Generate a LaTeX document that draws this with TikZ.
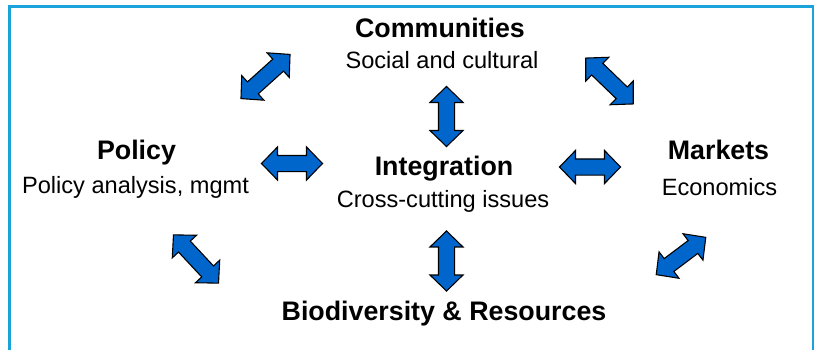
\documentclass[tikz,border=0pt]{standalone}
\usepackage{fontspec}
\setmainfont{Liberation Sans}
\usetikzlibrary{shapes.arrows}
\definecolor{framecol}{RGB}{26,163,218}
\definecolor{arrowblue}{RGB}{0,102,204}
\tikzset{
  title/.style={anchor=base, inner sep=0pt, font=\fontsize{26.8}{31}\selectfont\bfseries},
  sub/.style={anchor=base, inner sep=0pt, font=\fontsize{23.6}{28}\selectfont},
  dblarrow/.style={double arrow, draw=black, line width=1.1pt, fill=arrowblue,
    inner xsep=0pt, inner ysep=7.5pt, minimum height=#1,
    double arrow head extend=8.5pt, double arrow tip angle=92},
}
\begin{document}
\begin{tikzpicture}[x=1pt,y=-1pt]
\useasboundingbox (0,0) rectangle (819,349);
% frame
\draw[framecol, line width=2.5pt] (9.5,352) -- (9.5,6.5) -- (813,6.5) -- (813,352);
% texts
\node[title] (comm) at (440,37) {Communities};
\node[sub] (commsub) at (442,68) {Social and cultural};
\node[title] (pol) at (136.5,159) {Policy};
\node[sub] (polsub) at (135.5,193) {Policy analysis, mgmt};
\node[title] (integ) at (444,175) {Integration};
\node[sub] (integsub) at (443,207.5) {Cross-cutting issues};
\node[title] (mark) at (718.5,159.5) {Markets};
\node[sub] (marksub) at (719.5,195) {Economics};
\node[title] (bio) at (444,320) {Biodiversity \& Resources};
% arrows
\node[dblarrow=66pt, rotate=42] (a1) at (265.5,76.5) {};
\node[dblarrow=66pt, rotate=-44] (a2) at (609.5,81) {};
\node[dblarrow=60pt, rotate=90] (a3) at (446.5,116.5) {};
\node[dblarrow=61pt] (a4) at (292,163.5) {};
\node[dblarrow=61pt] (a5) at (590,167) {};
\node[dblarrow=66pt, rotate=-47] (a6) at (196,259) {};
\node[dblarrow=60pt, rotate=90] (a7) at (446.5,261) {};
\node[dblarrow=62pt, rotate=37] (a8) at (681,256) {};
\end{tikzpicture}
\end{document}
